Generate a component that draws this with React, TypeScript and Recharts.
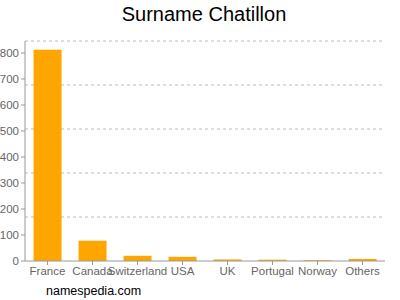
import { Bar, BarChart, CartesianGrid, XAxis, YAxis } from "recharts";

const countries = ["France", "Canada", "Switzerland", "USA", "UK", "Portugal", "Norway", "Others"];
const counts = [812, 78, 20, 16, 6, 5, 3, 8];
const yTicks = [0, 100, 200, 300, 400, 500, 600, 700, 800];
const yMax = 846;
const gridTicks = [169.2, 338.4, 507.6, 676.8, 846];

const data = countries.map((name, i) => ({ name, value: counts[i] }));

const font = "'Liberation Sans', Arial, sans-serif";

export default function App() {
  return (
    <div style={{ position: "absolute", left: 0, top: 0, width: 400, height: 300, background: "#fff", fontFamily: font }}>
      <div style={{ position: "absolute", top: 3, left: 8, width: 392, textAlign: "center", fontSize: 20, color: "#000" }}>
        Surname Chatillon
      </div>
      <BarChart
        width={400}
        height={300}
        data={data}
        margin={{ top: 41, right: 15, bottom: 9, left: 0 }}
        barCategoryGap="19%"
      >
        <CartesianGrid
          yAxisId="main"
          vertical={false}
          horizontalValues={gridTicks}
          stroke="#bbb"
          strokeDasharray="3 3"
        />
        <XAxis
          dataKey="name"
          interval={0}
          tickSize={4}
          height={30}
          stroke="#999"
          tick={{ fill: "#666", fontSize: 11.5, fontFamily: font }}
        />
        <YAxis
          yAxisId="main"
          width={25}
          domain={[0, yMax]}
          ticks={yTicks}
          tickSize={4}
          stroke="#999"
          tick={{ fill: "#666", fontSize: 11.5, fontFamily: font }}
        />
        <Bar yAxisId="main" dataKey="value" fill="#FFA500" isAnimationActive={false} />
      </BarChart>
      <div style={{ position: "absolute", left: 46, top: 284, fontSize: 12.5, color: "#000" }}>namespedia.com</div>
    </div>
  );
}
